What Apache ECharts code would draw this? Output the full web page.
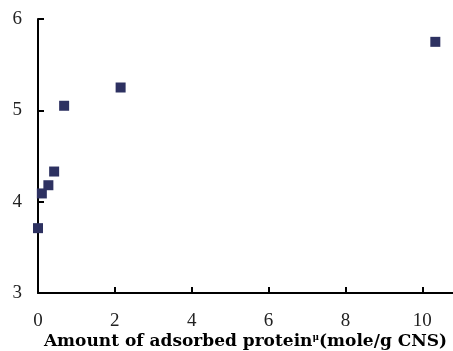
<!DOCTYPE html>
<html>
<head>
<meta charset="utf-8">
<script src="https://cdn.jsdelivr.net/npm/echarts@6/dist/echarts.min.js"></script>
<style>html,body{margin:0;padding:0;background:#fff;}#c{width:453px;height:351px;}</style>
</head>
<body>
<div id="c"></div>
<script>
var xValues = [0, 0.1, 0.27, 0.42, 0.68, 2.15, 10.34];
var yValues = [3.71, 4.09, 4.18, 4.33, 5.05, 5.25, 5.75];
var xTicks = [0, 2, 4, 6, 8, 10];
var yTicks = [3, 4, 5, 6];

var points = xValues.map(function (x, i) { return [x, yValues[i]]; });
var font = '"Liberation Serif", "Times New Roman", serif';
var titleFont = '"DejaVu Serif", serif';
var chart = echarts.init(document.getElementById('c'));
chart.setOption({
  animation: false,
  backgroundColor: '#fff',
  grid: { left: 38, right: 0, top: 19, bottom: 58, containLabel: false, outerBoundsMode: 'none' },
  xAxis: {
    type: 'value', min: 0, max: 10.8,
    axisLine: { lineStyle: { color: '#000', width: 2 } },
    axisTick: { inside: true, length: 6, customValues: xTicks, lineStyle: { color: '#000', width: 2 } },
    axisLabel: { fontFamily: font, fontSize: 19, color: '#222', margin: 19, customValues: xTicks },
    splitLine: { show: false },
    name: '{b|Amount of adsorbed protein}{s|μ}{b|(mole/g CNS)}',
    nameLocation: 'middle', nameGap: 40, nameMoveOverlap: false,
    nameTextStyle: {
      rich: {
        b: { fontFamily: titleFont, fontSize: 17, fontWeight: 'bold', color: '#000' },
        s: { fontFamily: titleFont, fontSize: 9, fontWeight: 'bold', color: '#000', padding: [0, 0, 8, 0] }
      }
    }
  },
  yAxis: {
    type: 'value', min: 3, max: 6,
    axisLine: { show: true, lineStyle: { color: '#000', width: 2 } },
    axisTick: { show: true, inside: true, length: 6, customValues: yTicks, lineStyle: { color: '#000', width: 2 } },
    axisLabel: { fontFamily: font, fontSize: 19, color: '#222', margin: 16, customValues: yTicks },
    splitLine: { show: false }
  },
  series: [{
    type: 'scatter',
    data: points,
    symbol: 'rect',
    symbolSize: 10,
    itemStyle: { color: '#2D3161', opacity: 1 }
  }]
});
</script>
</body>
</html>
